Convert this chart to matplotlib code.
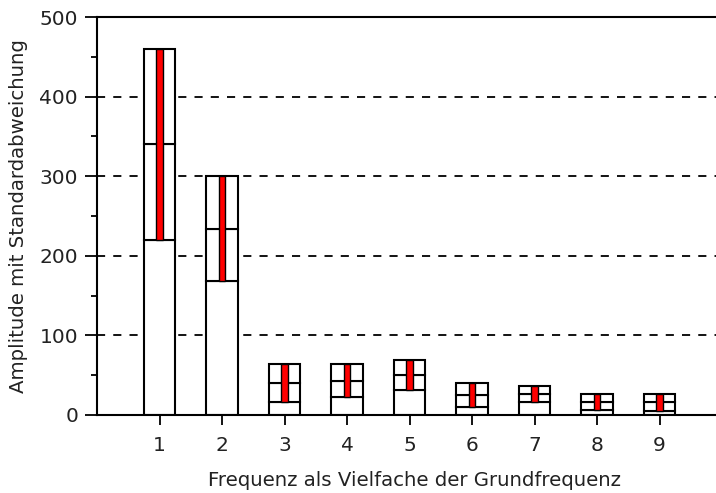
import numpy as np
import matplotlib.pyplot as plt

harmonics = [1, 2, 3, 4, 5, 6, 7, 8, 9]
mean_amp = [340, 234, 40, 43, 50, 25, 26, 16, 16]
std_amp = [120, 66, 24, 21, 19, 15, 10, 10, 11]

x = np.array(harmonics)
m = np.array(mean_amp, dtype=float)
s = np.array(std_amp, dtype=float)

txt = '#222222'
fig = plt.figure(figsize=(7.16, 4.93), dpi=100)
ax = fig.add_axes([97 / 716, 78 / 493, 625 / 716, 398 / 493])

for yv in [100, 200, 300, 400]:
    ax.axhline(yv, color='black', lw=1.3, ls=(0, (4.5, 4.5)), zorder=0)

kw = dict(width=0.5, color='white', edgecolor='black', linewidth=1.5, zorder=2)
ax.bar(x, m - s, **kw)
ax.bar(x, s, bottom=m - s, **kw)
ax.bar(x, s, bottom=m, **kw)
ax.bar(x, 2 * s, bottom=m - s, width=0.11, color='red', edgecolor='black',
       linewidth=1.0, zorder=3)

ax.set_xlim(0, 10)
ax.set_ylim(0, 500)
ax.set_xticks(harmonics)
ax.set_yticks([0, 100, 200, 300, 400, 500])
ax.set_yticks([50, 150, 250, 350, 450], minor=True)
ax.tick_params(axis='both', which='major', direction='out', width=1.3,
               labelsize=14.5, labelcolor=txt)
ax.tick_params(axis='y', which='major', length=8.6, pad=5)
ax.tick_params(axis='y', which='minor', direction='out', length=4.3, width=1.3)
ax.tick_params(axis='x', length=7.5, pad=7.5)
ax.spines['right'].set_visible(False)
for sp in ['left', 'top', 'bottom']:
    ax.spines[sp].set_linewidth(1.5)

ax.set_xlabel('Frequenz als Vielfache der Grundfrequenz', fontsize=14.2, color=txt)
ax.xaxis.set_label_coords(0.508, -0.14)
ax.set_ylabel('Amplitude mit Standardabweichung', fontsize=14.2, labelpad=8, color=txt)

fig.savefig('out.png', dpi=100)
